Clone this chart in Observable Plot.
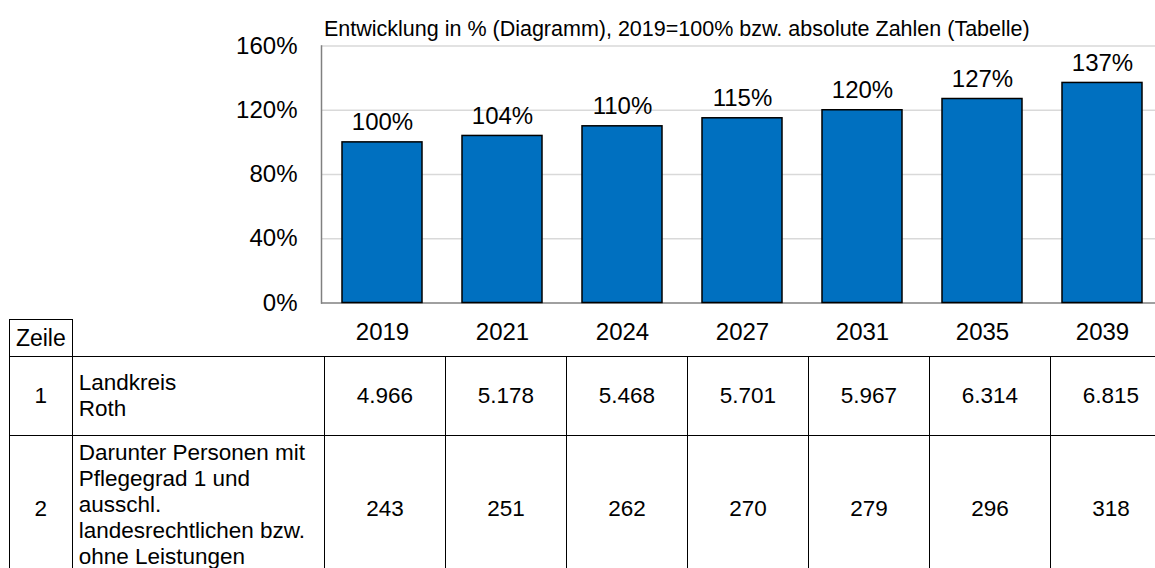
<!DOCTYPE html>
<html>
<head>
<meta charset="utf-8">
<script src="https://cdn.jsdelivr.net/npm/d3@7"></script>
<script src="https://cdn.jsdelivr.net/npm/@observablehq/plot@0.6"></script>
<style>
  html, body { margin: 0; padding: 0; background: #fff; }
  #wrap { position: relative; width: 1155px; height: 568px; overflow: hidden; font-family: "Liberation Sans", Arial, sans-serif; color: #000; }
  #title { position: absolute; left: 324px; top: 16.5px; font-size: 21.5px; white-space: nowrap; }
  #chart { position: absolute; left: 0; top: 0; }
  #tbl { position: absolute; left: 9px; top: 319px; width: 1162px; border-collapse: collapse; table-layout: fixed; font-size: 22.5px; }
  #tbl td { padding: 0; vertical-align: middle; }
  #tbl td.b { border: 1.5px solid #000; }
  #tbl td.num { text-align: center; }
  #tbl td.lab { text-align: left; padding-left: 6px; line-height: 26px; white-space: nowrap; }
  #tbl td.top { vertical-align: top; padding-top: 4px; }
  #tbl td.hb { border-bottom: 1.5px solid #000; }
</style>
</head>
<body>
<div id="wrap">
  <div id="chart"></div>
  <div id="title"></div>
  <table id="tbl"></table>
</div>
<script>
const titleText = "Entwicklung in % (Diagramm), 2019=100% bzw. absolute Zahlen (Tabelle)";
const years = ["2019", "2021", "2024", "2027", "2031", "2035", "2039"];
const percent = [100, 104, 110, 115, 120, 127, 137];
const yTicks = [0, 40, 80, 120, 160];
const rowNumbers = ["1", "2"];
const rowLabels = [
  ["Landkreis", "Roth"],
  ["Darunter Personen mit", "Pflegegrad 1 und", "ausschl.", "landesrechtlichen bzw.", "ohne Leistungen"]
];
const row1 = ["4.966", "5.178", "5.468", "5.701", "5.967", "6.314", "6.815"];
const row2 = ["243", "251", "262", "270", "279", "296", "318"];
const headerLabel = "Zeile";

const data = years.map((y, i) => ({year: y, value: percent[i]}));

document.getElementById("title").textContent = titleText;

const plot = Plot.plot({
  width: 1155,
  height: 356,
  marginLeft: 321,
  marginRight: -8,
  marginTop: 45.5,
  marginBottom: 53.5,
  style: {fontFamily: "'Liberation Sans', Arial, sans-serif", background: "transparent", color: "#000", overflow: "visible"},
  x: {domain: years, paddingInner: 0.331, paddingOuter: 0.1655, label: null},
  y: {domain: [0, 160], label: null},
  marks: [
    Plot.ruleY(yTicks.filter(d => d > 0), {stroke: "#d9d9d9", strokeWidth: 1.5}),
    Plot.ruleY([0], {stroke: "#808080", strokeWidth: 1.5}),
    Plot.frame({anchor: "left", stroke: "#808080", strokeWidth: 1.5}),
    Plot.barY(data, {x: "year", y: "value", fill: "#0070c0", stroke: "#000", strokeWidth: 1.5}),
    Plot.text(data, {x: "year", y: "value", text: d => d.value + "%", dy: -12, lineAnchor: "bottom", fontSize: 24, fill: "#000"}),
    Plot.axisY({ticks: yTicks, tickFormat: d => d + "%", tickSize: 0, tickPadding: 24, fontSize: 24, label: null}),
    Plot.axisX({tickSize: 0, tickPadding: 20, fontSize: 24, label: null})
  ]
});
document.getElementById("chart").appendChild(plot);

// table
const tbl = document.getElementById("tbl");
const colgroup = document.createElement("colgroup");
[62.7, 252.3, ...years.map(() => 121)].forEach(w => {
  const c = document.createElement("col");
  c.style.width = w + "px";
  colgroup.appendChild(c);
});
tbl.appendChild(colgroup);

const head = document.createElement("tr");
head.style.height = "37px";
const hz = document.createElement("td");
hz.className = "b num";
hz.style.fontSize = "23px";
hz.textContent = headerLabel;
head.appendChild(hz);
for (let i = 0; i < years.length + 1; i++) {
  const td = document.createElement("td");
  td.className = "hb";
  head.appendChild(td);
}
tbl.appendChild(head);

const rows = [row1, row2];
const heights = [79, 146];
rows.forEach((vals, r) => {
  const tr = document.createElement("tr");
  tr.style.height = heights[r] + "px";
  const n = document.createElement("td");
  n.className = "b num";
  n.textContent = rowNumbers[r];
  tr.appendChild(n);
  const l = document.createElement("td");
  l.className = "b lab" + (r === 1 ? " top" : "");
  l.innerHTML = rowLabels[r].join("<br>");
  tr.appendChild(l);
  vals.forEach(v => {
    const td = document.createElement("td");
    td.className = "b num";
    td.textContent = v;
    tr.appendChild(td);
  });
  tbl.appendChild(tr);
});
</script>
</body>
</html>
